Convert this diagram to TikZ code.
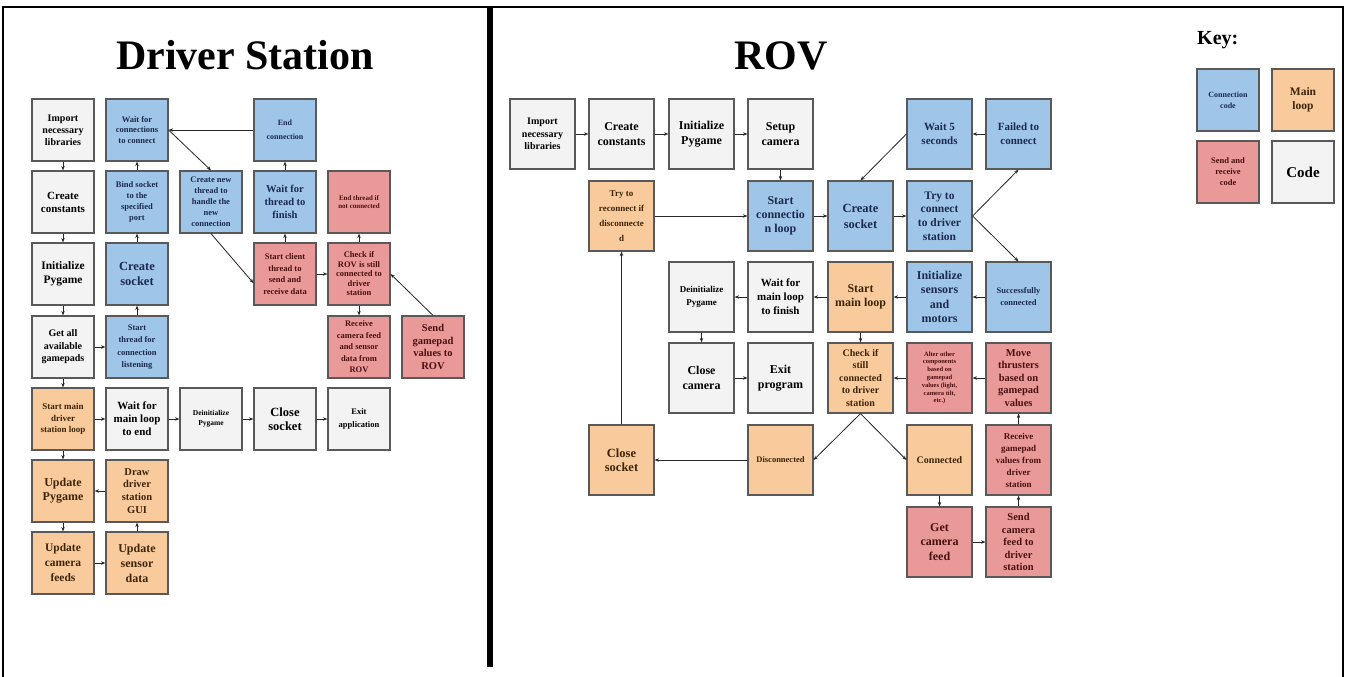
\documentclass[tikz,border=0pt]{standalone}
\usepackage{fontspec}
\setmainfont{Liberation Serif}
\usetikzlibrary{arrows.meta}
\definecolor{bfill}{HTML}{9FC5E8}
\definecolor{ofill}{HTML}{F9CB9C}
\definecolor{rfill}{HTML}{EA9999}
\definecolor{wfill}{HTML}{F3F3F3}
\definecolor{bdr}{HTML}{595959}
\definecolor{btext}{HTML}{1B2A4E}
\definecolor{otext}{HTML}{3D2408}
\definecolor{rtext}{HTML}{4A1010}
\newcommand{\F}[2]{\bfseries\fontsize{#1}{#2}\selectfont}
\begin{document}
\begin{tikzpicture}[x=1pt,y=-1pt,
  box/.style={draw=bdr, line width=1.2pt, align=center, inner sep=0pt},
  ds/.style={box, minimum width=62pt, minimum height=62pt},
  rv/.style={box, minimum width=65pt, minimum height=70pt},
  blu/.style={fill=bfill, text=btext},
  orng/.style={fill=ofill, text=otext},
  redd/.style={fill=rfill, text=rtext},
  wht/.style={fill=wfill, text=black},
  arr/.style={-{Stealth[length=4.5pt,width=3.5pt]}, line width=0.8pt, draw=black!85},
  title/.style={font=\bfseries\fontsize{42}{46}\selectfont, inner sep=0pt}]
\useasboundingbox (0,0) rectangle (1349,677);
\fill[white] (0,0) rectangle (1349,677);
% frame
\draw[line width=2.5pt] (3,677) -- (3,7) -- (1343,7) -- (1343,677);
\draw[line width=6pt] (490,7) -- (490,667);
% titles
\node[title, anchor=base] (tds) at (245,70) {Driver Station};
\node[title, anchor=base] (trov) at (781,70) {ROV};
\node[font=\bfseries\fontsize{20}{22}\selectfont, inner sep=0pt, anchor=base west] (tkey) at (1197,45) {Key:};

% ---------------- Driver Station ----------------
\node[ds, wht, font=\F{10}{12}] (dimport) at (63,130) {Import\\necessary\\libraries};
\node[ds, wht, font=\F{11}{13}] (dconst) at (63,202) {Create\\constants};
\node[ds, wht, font=\F{11.5}{13.5}] (dinit) at (63,274) {Initialize\\Pygame};
\node[ds, wht, font=\F{10}{12.5}] (dget) at (63,347) {Get all\\available\\gamepads};
\node[ds, orng, font=\F{9}{11.5}] (dstart) at (63,419) {Start main\\driver\\station loop};
\node[ds, orng, font=\F{12}{14}] (dupdpy) at (63,491) {Update\\Pygame};
\node[ds, orng, font=\F{11.5}{15}] (dupdcam) at (63,563) {Update\\camera\\feeds};
\node[ds, blu, font=\F{8.5}{10.8}] (dwaitc) at (137,130) {Wait for\\connections\\to connect};
\node[ds, blu, font=\F{8.5}{10.8}] (dbind) at (137,202) {Bind socket\\to the\\specified\\port};
\node[ds, blu, font=\F{12.5}{14.3}] (dsock) at (137,274) {Create\\socket};
\node[ds, blu, font=\F{8.5}{12.5}] (dthread) at (137,347) {Start\\thread for\\connection\\listening};
\node[ds, wht, font=\F{11}{13}] (dwaitend) at (137,419) {Wait for\\main loop\\to end};
\node[ds, orng, font=\F{10.5}{12.8}] (ddraw) at (137,491) {Draw\\driver\\station\\GUI};
\node[ds, orng, font=\F{12}{15}] (dsensor) at (137,563) {Update\\sensor\\data};
\node[ds, blu, font=\F{8.5}{11}] (dnew) at (211,202) {Create new\\thread to\\handle the\\new\\connection};
\node[ds, wht, font=\F{7.5}{10}] (ddeinit) at (211,419) {Deinitialize\\Pygame};
\node[ds, blu, font=\F{8}{14}] (dendc) at (285,130) {End\\connection};
\node[ds, blu, font=\F{10.5}{13}] (dwaitth) at (285,202) {Wait for\\thread to\\finish};
\node[ds, redd, font=\F{8.5}{11.5}] (dclient) at (285,274) {Start client\\thread to\\send and\\receive data};
\node[ds, wht, font=\F{12.5}{14}] (dclose) at (285,419) {Close\\socket};
\node[ds, redd, font=\F{7}{8}] (dendth) at (359,202) {End thread if\\not connected};
\node[ds, redd, font=\F{8.5}{9.5}] (dcheck) at (359,274) {Check if\\ROV is still\\connected to\\driver\\station};
\node[ds, redd, font=\F{8.5}{11.5}] (drecv) at (359,347) {Receive\\camera feed\\and sensor\\data from\\ROV};
\node[ds, wht, font=\F{8.5}{12.5}] (dexit) at (359,419) {Exit\\application};
\node[ds, redd, font=\F{10.5}{12.5}] (dsend) at (433,347) {Send\\gamepad\\values to\\ROV};

\draw[arr] (dimport) -- (dconst);
\draw[arr] (dconst) -- (dinit);
\draw[arr] (dinit) -- (dget);
\draw[arr] (dget) -- (dstart);
\draw[arr] (dget) -- (dthread);
\draw[arr] (dthread) -- (dsock);
\draw[arr] (dsock) -- (dbind);
\draw[arr] (dbind) -- (dwaitc);
\draw[arr] (dendc.west) -- (dwaitc.east);
\draw[arr] (dwaitc.east) -- (dnew.north);
\draw[arr] (dnew.south) -- (dclient.196);
\draw[arr] (dclient) -- (dwaitth);
\draw[arr] (dwaitth) -- (dendc);
\draw[arr] (dclient) -- (dcheck);
\draw[arr] (dcheck) -- (dendth);
\draw[arr] (dcheck) -- (drecv);
\draw[arr] (dsend.north) -- (dcheck.east);
\draw[arr] (dstart) -- (dwaitend);
\draw[arr] (dwaitend) -- (ddeinit);
\draw[arr] (ddeinit) -- (dclose);
\draw[arr] (dclose) -- (dexit);
\draw[arr] (dstart) -- (dupdpy);
\draw[arr] (ddraw) -- (dupdpy);
\draw[arr] (dupdpy) -- (dupdcam);
\draw[arr] (dupdcam) -- (dsensor);
\draw[arr] (dsensor) -- (ddraw);

% ---------------- ROV ----------------
\node[rv, wht, font=\F{10}{12.5}] (rimport) at (542.5,134) {Import\\necessary\\libraries};
\node[rv, wht, font=\F{12}{15}] (rconst) at (621.5,134) {Create\\constants};
\node[rv, wht, font=\F{12}{15}] (rinit) at (701.5,134) {Initialize\\Pygame};
\node[rv, wht, font=\F{12}{15}] (rcam) at (780.5,134) {Setup\\camera};
\node[rv, blu, font=\F{11}{14}] (rwait5) at (939.5,134) {Wait 5\\seconds};
\node[rv, blu, font=\F{11}{14}] (rfail) at (1018.5,134) {Failed to\\connect};
\node[rv, orng, font=\F{9}{15}] (rtryrec) at (621.5,216) {Try to\\reconnect if\\disconnecte\\d};
\node[rv, blu, font=\F{12}{14}] (rloop) at (780.5,216) {Start\\connectio\\n loop};
\node[rv, blu, font=\F{12.5}{16}] (rsock) at (860.5,216) {Create\\socket};
\node[rv, blu, font=\F{11.5}{13.6}] (rtry) at (939.5,216) {Try to\\connect\\to driver\\station};
\node[rv, wht, font=\F{9}{13}] (rdeinit) at (701.5,297) {Deinitialize\\Pygame};
\node[rv, wht, font=\F{11}{14}] (rwaitf) at (780.5,297) {Wait for\\main loop\\to finish};
\node[rv, orng, font=\F{12}{14}] (rmain) at (860.5,297) {Start\\main loop};
\node[rv, blu, font=\F{12}{14.5}] (rsens) at (939.5,297) {Initialize\\sensors\\and\\motors};
\node[rv, blu, font=\F{8.5}{12}] (rsucc) at (1018.5,297) {Successfully\\connected};
\node[rv, wht, font=\F{12}{15}] (rclcam) at (701.5,378) {Close\\camera};
\node[rv, wht, font=\F{12}{15}] (rexit) at (780.5,378) {Exit\\program};
\node[rv, orng, font=\F{10}{12.5}] (rcheck) at (860.5,378) {Check if\\still\\connected\\to driver\\station};
\node[rv, redd, font=\F{6.5}{7.8}] (ralter) at (939.5,378) {Alter other\\components\\based on\\gamepad\\values (light,\\camera tilt,\\etc.)};
\node[rv, redd, font=\F{10.5}{12.5}] (rmove) at (1018.5,378) {Move\\thrusters\\based on\\gamepad\\values};
\node[rv, orng, font=\F{12.5}{14.5}] (rclsock) at (621.5,460) {Close\\socket};
\node[rv, orng, font=\F{8.5}{10}] (rdisc) at (780.5,460) {Disconnected};
\node[rv, orng, font=\F{10}{12}] (rconn) at (939.5,460) {Connected};
\node[rv, redd, font=\F{9}{12}] (rrecv) at (1018.5,460) {Receive\\gamepad\\values from\\driver\\station};
\node[rv, redd, font=\F{12}{14.7}] (rget) at (939.5,542) {Get\\camera\\feed};
\node[rv, redd, font=\F{10.5}{12.5}] (rsend) at (1018.5,542) {Send\\camera\\feed to\\driver\\station};

\draw[arr] (rimport) -- (rconst);
\draw[arr] (rconst) -- (rinit);
\draw[arr] (rinit) -- (rcam);
\draw[arr] (rcam) -- (rloop);
\draw[arr] (rtryrec) -- (rloop);
\draw[arr] (rloop) -- (rsock);
\draw[arr] (rsock) -- (rtry);
\draw[arr] (rtry.east) -- (rfail.south);
\draw[arr] (rtry.east) -- (rsucc.north);
\draw[arr] (rfail) -- (rwait5);
\draw[arr] (rwait5.west) -- (rsock.north);
\draw[arr] (rsucc) -- (rsens);
\draw[arr] (rsens) -- (rmain);
\draw[arr] (rmain) -- (rwaitf);
\draw[arr] (rwaitf) -- (rdeinit);
\draw[arr] (rdeinit) -- (rclcam);
\draw[arr] (rclcam) -- (rexit);
\draw[arr] (rmain) -- (rcheck);
\draw[arr] (ralter) -- (rcheck);
\draw[arr] (rmove) -- (ralter);
\draw[arr] (rrecv) -- (rmove);
\draw[arr] (rsend) -- (rrecv);
\draw[arr] (rget) -- (rsend);
\draw[arr] (rconn) -- (rget);
\draw[arr] (rcheck.south) -- (rdisc.east);
\draw[arr] (rcheck.south) -- (rconn.west);
\draw[arr] (rdisc) -- (rclsock);
\draw[arr] (rclsock) -- (rtryrec);

% ---------------- Key ----------------
\node[ds, blu, font=\F{8}{11}] (kconn) at (1228,100) {Connection\\code};
\node[ds, orng, font=\F{11.5}{14}] (kmain) at (1303,100) {Main\\loop};
\node[ds, redd, font=\F{8.5}{11}] (ksend) at (1228,172) {Send and\\receive\\code};
\node[ds, wht, font=\F{15}{17}] (kcode) at (1303,172) {Code};
\end{tikzpicture}
\end{document}
